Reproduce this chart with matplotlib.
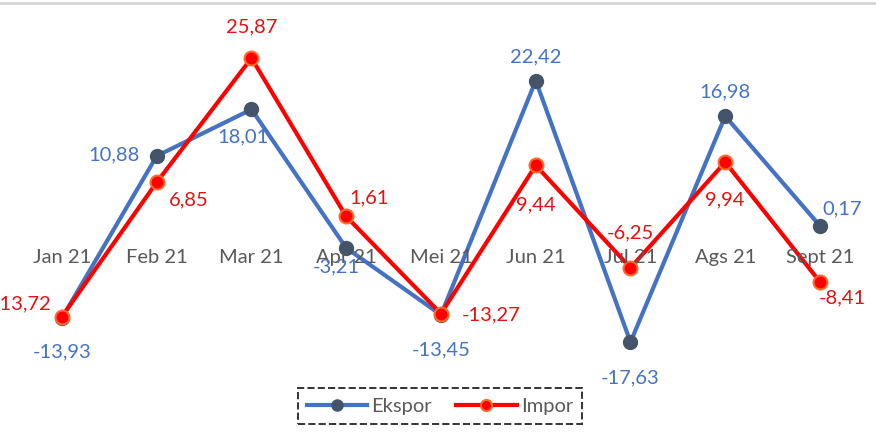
import matplotlib.pyplot as plt
from matplotlib.lines import Line2D

months = ['Jan 21', 'Feb 21', 'Mar 21', 'Apr 21', 'Mei 21', 'Jun 21', 'Jul 21', 'Ags 21', 'Sept 21']
ekspor = [-13.93, 10.88, 18.01, -3.21, -13.45, 22.42, -17.63, 16.98, 0.17]
impor = [-13.72, 6.85, 25.87, 1.61, -13.27, 9.44, -6.25, 9.94, -8.41]

# label offsets in pixels (dx, dy) relative to each marker
ekspor_off = [(0, -34), (-43, 1), (-8, -27), (-10, -19), (0, -35), (0, 24), (0, -36), (0, 24), (22, 17)]
impor_off = [(-10, 13), (32, -18), (0, 31), (23, 19), (50, -1), (0, -40), (0, 35), (0, -38), (22, -16)]

blue = '#4472C4'
red = '#FF0000'
fs = 14.5

plt.rcParams['font.family'] = ['Lato', 'DejaVu Sans']

fig = plt.figure(figsize=(8.76, 4.42), dpi=100)
ax = fig.add_axes([0, 0, 1, 1])
ax.set_xlim(-0.654, 8.591)
ax.set_ylim(-32.92, 34.76)
ax.axis('off')

x = list(range(len(months)))
ax.plot(x, ekspor, color=blue, lw=3, marker='o', ms=10,
        mfc='#44546A', mec='#44546A', zorder=3, label='Ekspor')
ax.plot(x, impor, color=red, lw=3, marker='o', ms=10,
        mfc=red, mec='#FF6A2A', mew=1.5, zorder=4, label='Impor')

def fmt(v):
    return ('%.2f' % v).replace('.', ',')

for i, m in enumerate(months):
    ax.annotate(m, (i, 0), xytext=(0, -30 * 0.72), textcoords='offset points',
                ha='center', va='center', fontsize=fs, color='#595959', zorder=5)

for i, v in enumerate(ekspor):
    dx, dy = ekspor_off[i]
    ax.annotate(fmt(v), (i, v), xytext=(dx * 0.72, dy * 0.72), textcoords='offset points',
                ha='center', va='center', fontsize=fs, color=blue, zorder=6)

for i, v in enumerate(impor):
    dx, dy = impor_off[i]
    # first label sits against the left edge, its minus sign falls outside
    ha = 'right' if i == 0 else 'center'
    ax.annotate(fmt(v), (i, v), xytext=(dx * 0.72, dy * 0.72), textcoords='offset points',
                ha=ha, va='center', fontsize=fs, color='#E81010', zorder=6)

# top border
fig.add_artist(Line2D([0, 1], [1 - 3 / 442, 1 - 3 / 442], color='#D4D4D4', lw=2))

leg = ax.legend(loc='center', bbox_to_anchor=(440 / 876, 1 - 406 / 442), ncol=2,
                frameon=True, fancybox=False, fontsize=fs, handlelength=3.0,
                columnspacing=1.2, handletextpad=0.2, borderpad=0.45, markerscale=0.8)
frame = leg.get_frame()
frame.set_edgecolor('black')
frame.set_linestyle('--')
frame.set_linewidth(1.4)
for t in leg.get_texts():
    t.set_color('#595959')

fig.savefig('out.png', dpi=100)
